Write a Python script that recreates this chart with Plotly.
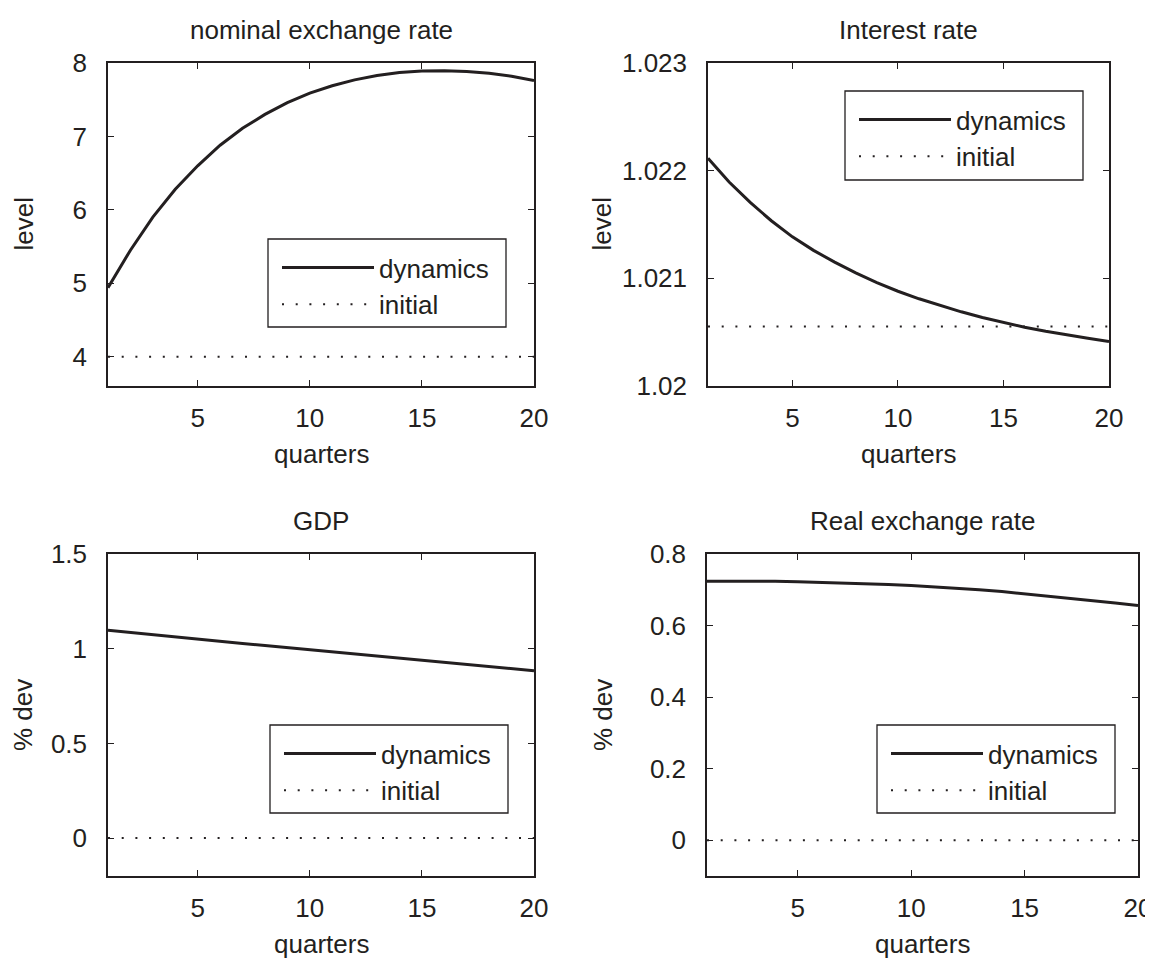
import plotly.graph_objects as go

# ---------------- data ----------------
quarters = list(range(1, 21))

nominal_dyn = [4.94, 5.45, 5.90, 6.28, 6.60, 6.88, 7.11, 7.30, 7.46, 7.59,
               7.69, 7.77, 7.83, 7.87, 7.89, 7.895, 7.885, 7.86, 7.82, 7.76]
nominal_init = [4.0] * 20

interest_dyn = [1.022115, 1.021895, 1.021705, 1.021535, 1.021385, 1.021260,
                1.021150, 1.021050, 1.020960, 1.020880, 1.020810, 1.020747,
                1.020689, 1.020637, 1.020589, 1.020546, 1.020508, 1.020474,
                1.020443, 1.020414]
interest_init = [1.020552] * 20

gdp_dyn = [1.097, 1.085, 1.073, 1.061, 1.049, 1.038, 1.027, 1.017, 1.006, 0.995,
           0.985, 0.974, 0.963, 0.953, 0.942, 0.931, 0.919, 0.908, 0.896, 0.884]
gdp_init = [0.0] * 20

rer_dyn = [0.7235, 0.7240, 0.7242, 0.7235, 0.7225, 0.7210, 0.7190, 0.7168,
           0.7145, 0.7120, 0.7085, 0.7045, 0.7000, 0.6950, 0.6890, 0.6830,
           0.6765, 0.6698, 0.6630, 0.6560]
rer_init = [0.0] * 20

titles = ["nominal exchange rate", "Interest rate", "GDP", "Real exchange rate"]
ylabels = ["level", "level", "% dev", "% dev"]
xlabel = "quarters"

x_ticks = [5, 10, 15, 20]
y_ticks = [[4, 5, 6, 7, 8],
           [1.020, 1.021, 1.022, 1.023],
           [0, 0.5, 1, 1.5],
           [0, 0.2, 0.4, 0.6, 0.8]]
y_ticktext = [["4", "5", "6", "7", "8"],
              ["1.02", "1.021", "1.022", "1.023"],
              ["0", "0.5", "1", "1.5"],
              ["0", "0.2", "0.4", "0.6", "0.8"]]
y_ranges = [[3.6, 8], [1.020, 1.023], [-0.2, 1.5], [-0.1, 0.8]]

dyn_series = [nominal_dyn, interest_dyn, gdp_dyn, rer_dyn]
init_series = [nominal_init, interest_init, gdp_init, rer_init]

# ---------------- layout geometry (pixels, window coordinates) ----------------
# the page body has an 8px margin, so the figure is shrunk and coordinates shifted
OFF = 8
W, H = 1153 - OFF, 958 - OFF
INK = "#231f20"
FONT = "Liberation Sans, Arial, sans-serif"
FS = 26


def px(x):
    return (x - OFF) / W


def py(y):
    return 1 - (y - OFF) / H


# plot frames: (left, right, top, bottom) in window px
frames = [(108, 534, 63, 386),
          (708, 1109, 63, 386),
          (108, 534, 554, 876),
          (707, 1138, 554, 876)]
# legend boxes: (left, top, width, height) in window px
legend_box = [(268, 239, 238, 88), (845, 91, 238, 89),
              (270, 725, 238, 88), (877, 725, 238, 88)]
ylabel_x = [23, 601, 23, 603]

fig = go.Figure()
axis_names = ["", "2", "3", "4"]
legend_names = ["legend", "legend2", "legend3", "legend4"]

for i in range(4):
    xa = "x" + axis_names[i]
    ya = "y" + axis_names[i]
    fig.add_trace(go.Scatter(
        x=quarters, y=dyn_series[i], mode="lines", name="dynamics",
        line=dict(color=INK, width=3), xaxis=xa, yaxis=ya,
        legend=legend_names[i]))
    fig.add_trace(go.Scatter(
        x=quarters, y=init_series[i], mode="lines", name="initial",
        line=dict(color=INK, width=2, dash="2px,11.7px"), xaxis=xa, yaxis=ya,
        legend=legend_names[i]))

layout = dict(
    width=W, height=H,
    margin=dict(l=0, r=0, t=0, b=0, autoexpand=False),
    paper_bgcolor="white", plot_bgcolor="white",
    font=dict(family=FONT, size=FS, color=INK),
    showlegend=True,
)

annotations = []
shapes = []
for i, (l, r, t, b) in enumerate(frames):
    xdom = [px(l), px(r)]
    ydom = [py(b), py(t)]
    common = dict(showline=True, linecolor=INK, linewidth=1.5, mirror="ticks",
                  ticks="inside", ticklen=6, tickwidth=1.2, tickcolor=INK,
                  showgrid=False, zeroline=False, automargin=False,
                  tickfont=dict(family=FONT, size=FS, color=INK))
    layout["xaxis" + axis_names[i]] = dict(
        domain=xdom, range=[1, 20], tickvals=x_ticks,
        anchor="y" + axis_names[i], ticklabelstandoff=8, **common)
    layout["yaxis" + axis_names[i]] = dict(
        domain=ydom, range=y_ranges[i], tickvals=y_ticks[i],
        ticktext=y_ticktext[i],
        anchor="x" + axis_names[i], ticklabelstandoff=14, **common)
    bl, bt, bw, bh = legend_box[i]
    layout[legend_names[i]] = dict(
        x=px(bl + 9), y=py(bt + 5), xanchor="left", yanchor="top",
        borderwidth=0, bgcolor="rgba(0,0,0,0)",
        font=dict(family=FONT, size=FS, color=INK),
        itemwidth=92, traceorder="normal", tracegroupgap=0)
    shapes.append(dict(
        type="rect", xref="paper", yref="paper",
        x0=px(bl), x1=px(bl + bw), y0=py(bt + bh), y1=py(bt),
        line=dict(color=INK, width=1.3), fillcolor="white", layer="above"))
    # title
    annotations.append(dict(
        text=titles[i], x=px((l + r) / 2), y=py(t - 33),
        xref="paper", yref="paper", xanchor="center", yanchor="middle",
        showarrow=False, font=dict(family=FONT, size=FS, color=INK)))
    # x label
    annotations.append(dict(
        text=xlabel, x=px((l + r) / 2), y=py(b + 68),
        xref="paper", yref="paper", xanchor="center", yanchor="middle",
        showarrow=False, font=dict(family=FONT, size=FS, color=INK)))
    # y label
    annotations.append(dict(
        text=ylabels[i], x=px(ylabel_x[i]), y=py((t + b) / 2),
        xref="paper", yref="paper", xanchor="center", yanchor="middle",
        textangle=-90, showarrow=False,
        font=dict(family=FONT, size=FS, color=INK)))

layout["annotations"] = annotations
layout["shapes"] = shapes
fig.update_layout(**layout)
fig.write_html("out.html")
